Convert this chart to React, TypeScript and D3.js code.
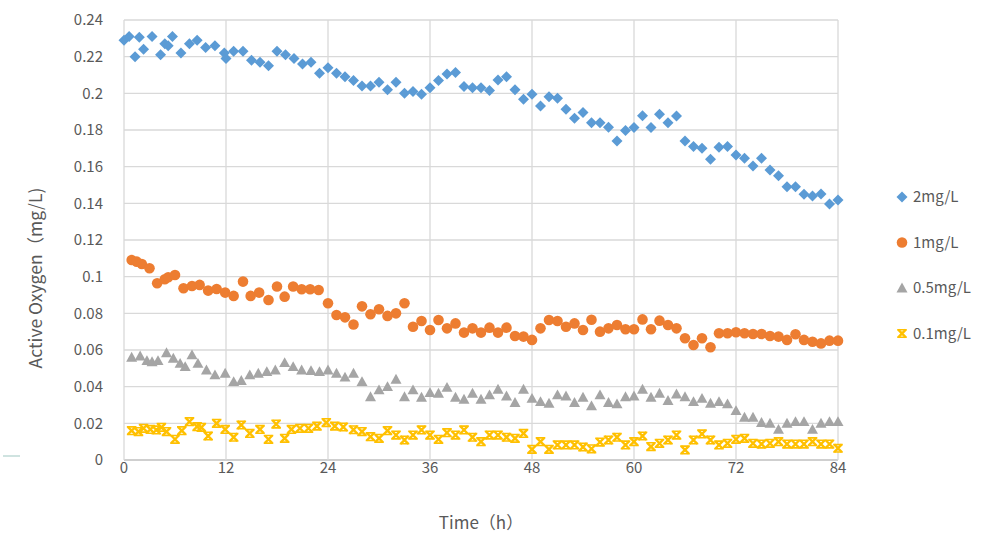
import React from 'react';
import * as d3 from 'd3';

// [hour, value] readings per concentration
const series2: [number, number][] = [
  [0, 0.229], [0.6, 0.231], [1.3, 0.22], [1.8, 0.2306], [2.3, 0.224], [3.3, 0.231], [4.3, 0.221], [4.8, 0.227],
  [5.2, 0.226], [5.7, 0.231], [6.7, 0.222], [7.7, 0.227], [8.6, 0.229], [9.6, 0.225], [10.7, 0.226], [11.8, 0.222],
  [12, 0.219], [12.9, 0.223], [14, 0.223], [15, 0.218], [16, 0.217], [17, 0.215], [18, 0.223], [19, 0.221],
  [20, 0.219], [21, 0.216], [22, 0.217], [23, 0.211], [24, 0.214], [25, 0.211], [26, 0.209], [27, 0.207],
  [28, 0.204], [29, 0.204], [30, 0.206], [31, 0.202], [32, 0.206], [33, 0.2], [34, 0.201], [35, 0.1995],
  [36, 0.203], [37, 0.207], [38, 0.2106], [39, 0.2113], [40, 0.2037], [41, 0.2031], [42, 0.2031], [43, 0.2015],
  [44, 0.2073], [45, 0.2091], [46, 0.2019], [47, 0.1968], [48, 0.1995], [49, 0.1931], [50, 0.1982], [51, 0.1973],
  [52, 0.1913], [53, 0.1864], [54, 0.1895], [55, 0.184], [56, 0.184], [57, 0.1815], [58, 0.174], [59, 0.1797],
  [60, 0.1813], [61, 0.1878], [62, 0.1813], [63, 0.1886], [64, 0.184], [65, 0.1877], [66, 0.174], [67, 0.171],
  [68, 0.17], [69, 0.164], [70, 0.1706], [71, 0.171], [72, 0.1664], [73, 0.1646], [74, 0.1604], [75, 0.1646],
  [76, 0.1582], [77, 0.155], [78, 0.149], [79, 0.149], [80, 0.145], [81, 0.144], [82, 0.1451], [83, 0.1397],
  [84, 0.1418],
];

const series1: [number, number][] = [
  [0.9, 0.1091], [1.5, 0.1082], [2.1, 0.1069], [3, 0.1046], [3.9, 0.0964], [4.8, 0.0986], [5.2, 0.0997], [6, 0.1009],
  [7, 0.0937], [8, 0.0949], [8.9, 0.0955], [9.9, 0.0924], [10.9, 0.0933], [11.9, 0.0913], [12.9, 0.0895], [14, 0.0973],
  [14.9, 0.0895], [15.9, 0.0913], [17, 0.0873], [18, 0.0946], [18.9, 0.0891], [19.9, 0.0946], [20.9, 0.0931], [21.9, 0.0931],
  [22.9, 0.0927], [24, 0.0855], [25, 0.0791], [26, 0.0778], [27, 0.0739], [28, 0.0838], [29, 0.0795], [30, 0.0822],
  [31, 0.0786], [32, 0.08], [33, 0.0855], [34, 0.0727], [35, 0.0758], [36, 0.0709], [37, 0.0764], [38, 0.0718],
  [39, 0.0745], [40, 0.0695], [41, 0.0718], [42, 0.0695], [43, 0.0722], [44, 0.0695], [45, 0.0722], [46, 0.0676],
  [47, 0.0673], [48, 0.0655], [49, 0.0718], [50, 0.0764], [51, 0.0758], [52, 0.0727], [53, 0.0745], [54, 0.0709],
  [55, 0.0765], [56, 0.07], [57, 0.0718], [58, 0.0736], [59, 0.0713], [60, 0.0713], [61, 0.0767], [62, 0.0713],
  [63, 0.076], [64, 0.0736], [65, 0.0718], [66, 0.0664], [67, 0.0627], [68, 0.0664], [69, 0.0615], [70, 0.0691],
  [71, 0.0691], [72, 0.0697], [73, 0.0691], [74, 0.0687], [75, 0.0687], [76, 0.0676], [77, 0.0673], [78, 0.0655],
  [79, 0.0686], [80, 0.0655], [81, 0.0645], [82, 0.0636], [83, 0.0651], [84, 0.0651],
];

const series05: [number, number][] = [
  [0.9, 0.056], [1.9, 0.0567], [2.7, 0.0542], [3.3, 0.0536], [4, 0.0542], [5, 0.0585], [5.8, 0.0555], [6.6, 0.0527],
  [7.2, 0.0509], [8, 0.0573], [8.7, 0.0527], [9.7, 0.0491], [10.7, 0.0464], [11.9, 0.0473], [12.9, 0.0427], [13.8, 0.0433],
  [14.8, 0.0464], [15.8, 0.0473], [16.8, 0.0482], [17.8, 0.0491], [18.9, 0.0531], [19.9, 0.0509], [20.9, 0.0491], [22, 0.0487],
  [23, 0.0482], [24, 0.0491], [25, 0.0473], [26, 0.0452], [27, 0.0473], [28, 0.0427], [29, 0.0345], [30, 0.0382],
  [31, 0.04], [32, 0.044], [33, 0.0345], [34, 0.0382], [35, 0.0342], [36, 0.0367], [37, 0.0364], [38, 0.0396],
  [39, 0.0342], [40, 0.0331], [41, 0.0364], [42, 0.0331], [43, 0.0355], [44, 0.0386], [45, 0.0349], [46, 0.0313],
  [47, 0.0386], [48, 0.0336], [49, 0.0318], [50, 0.0309], [51, 0.0355], [52, 0.0349], [53, 0.0313], [54, 0.0342],
  [55, 0.0295], [56, 0.0355], [57, 0.0313], [58, 0.0306], [59, 0.0345], [60, 0.0349], [61, 0.0386], [62, 0.0342],
  [63, 0.0364], [64, 0.0324], [65, 0.036], [66, 0.0345], [67, 0.0318], [68, 0.0336], [69, 0.0309], [70, 0.0318],
  [71, 0.0306], [72, 0.0269], [73, 0.0233], [74, 0.0233], [75, 0.0204], [76, 0.02], [77, 0.0167], [78, 0.02],
  [79, 0.0209], [80, 0.0209], [81, 0.0167], [82, 0.02], [83, 0.0209], [84, 0.0209],
];

const series01: [number, number][] = [
  [0.9, 0.016], [1.7, 0.0155], [2.3, 0.0173], [3.1, 0.0167], [3.8, 0.0164], [4.4, 0.0178], [5, 0.0155], [6, 0.0113],
  [6.8, 0.016], [7.7, 0.0209], [8.6, 0.0182], [9.1, 0.0178], [9.9, 0.0131], [10.9, 0.02], [11.9, 0.0167], [12.9, 0.0124],
  [13.8, 0.0191], [14.8, 0.0145], [16, 0.0167], [17, 0.0113], [17.9, 0.0196], [18.9, 0.0118], [19.7, 0.0167], [20.7, 0.0173],
  [21.7, 0.0173], [22.7, 0.0185], [23.8, 0.0204], [24.8, 0.0185], [25.8, 0.018], [27, 0.0165], [28, 0.0155], [29, 0.0127],
  [30, 0.0118], [31, 0.016], [32, 0.0136], [33, 0.0109], [34, 0.0136], [35, 0.0164], [36, 0.0136], [37, 0.0113],
  [38, 0.0149], [39, 0.0136], [40, 0.0164], [41, 0.0124], [42, 0.01], [43, 0.0136], [44, 0.0136], [45, 0.0124],
  [46, 0.0118], [47, 0.0145], [48, 0.0058], [49, 0.01], [50, 0.0058], [51, 0.0082], [52, 0.0082], [53, 0.0082],
  [54, 0.0071], [55, 0.0061], [56, 0.0098], [57, 0.0109], [58, 0.0124], [59, 0.0082], [60, 0.01], [61, 0.0131],
  [62, 0.0073], [63, 0.0091], [64, 0.0109], [65, 0.0136], [66, 0.0055], [67, 0.0109], [68, 0.0142], [69, 0.0109],
  [70, 0.0082], [71, 0.0091], [72, 0.0113], [73, 0.0118], [74, 0.0091], [75, 0.0087], [76, 0.0091], [77, 0.01],
  [78, 0.0087], [79, 0.0087], [80, 0.0087], [81, 0.01], [82, 0.0087], [83, 0.0087], [84, 0.0064],
];

const seriesNames = ['2mg/L', '1mg/L', '0.5mg/L', '0.1mg/L'];
const xTicks = [0, 12, 24, 36, 48, 60, 72, 84];
const yTicks = [0, 0.02, 0.04, 0.06, 0.08, 0.1, 0.12, 0.14, 0.16, 0.18, 0.2, 0.22, 0.24];

const colors = ['#5B9BD5', '#ED7D31', '#A5A5A5', '#FFC000'];
const font = '"Noto Sans CJK SC", "Noto Sans", sans-serif';
const textColor = '#595959';

const Marker = ({ kind, x, y }: { kind: number; x: number; y: number }) => {
  const c = colors[kind];
  if (kind === 0) {
    const s = 5.5;
    return <path d={`M${x},${y - s}L${x + s},${y}L${x},${y + s}L${x - s},${y}Z`} fill={c} />;
  }
  if (kind === 1) return <circle cx={x} cy={y} r={5.3} fill={c} />;
  if (kind === 2) {
    const s = 5.5;
    return <path d={`M${x},${y - s}L${x + s},${y + s * 0.8}L${x - s},${y + s * 0.8}Z`} fill={c} />;
  }
  const s = 3.8;
  return (
    <g stroke={c} strokeWidth={2.4} fill="none">
      <path d={`M${x - s},${y - s}L${x + s},${y + s}M${x + s},${y - s}L${x - s},${y + s}`} />
      <path d={`M${x - s - 1},${y - s}L${x + s + 1},${y - s}M${x - s - 1},${y + s}L${x + s + 1},${y + s}`} strokeWidth={1.6} />
    </g>
  );
};

const App = () => {
  const width = 1006;
  const height = 541;
  const margin = { top: 20, right: 168, bottom: 81, left: 124 };

  const x = d3.scaleLinear().domain([0, 84]).range([margin.left, width - margin.right]);
  const y = d3.scaleLinear().domain([0, 0.24]).range([height - margin.bottom, margin.top]);
  const all = [series2, series1, series05, series01];
  const fmt = (v: number) => String(+v.toFixed(2));

  return (
    <svg width={width} height={height} style={{ position: 'absolute', left: 0, top: 0, background: '#fff' }}>
      <rect width={width} height={height} fill="#fff" />
      {yTicks.map((t) => (
        <line key={'gy' + t} x1={x(0)} x2={x(84)} y1={y(t)} y2={y(t)} stroke={t === 0 ? '#bfbfbf' : '#d9d9d9'} strokeWidth={1.3} />
      ))}
      {xTicks.map((t) => (
        <line key={'gx' + t} x1={x(t)} x2={x(t)} y1={y(0)} y2={y(0.24)} stroke="#d9d9d9" strokeWidth={1.3} />
      ))}
      {yTicks.map((t) => (
        <text key={'ty' + t} x={103} y={y(t)} dy="0.35em" textAnchor="end" fontSize={15} fontFamily={font} fill={textColor}>
          {fmt(t)}
        </text>
      ))}
      {xTicks.map((t) => (
        <text key={'tx' + t} x={x(t)} y={y(0) + 2} dy="0.71em" textAnchor="middle" fontSize={15} fontFamily={font} fill={textColor}>
          {t}
        </text>
      ))}
      <text x={(x(0) + x(84)) / 2} y={529} textAnchor="middle" fontSize={17} fontFamily={font} fill={textColor}>
        Time（h）
      </text>
      <text transform={`translate(42,${278}) rotate(-90)`} textAnchor="middle" fontSize={17.5} fontFamily={font} fill={textColor}>
        Active Oxygen（mg/L)
      </text>
      <line x1={3} x2={20} y1={456} y2={456} stroke="#cfe3e0" strokeWidth={2} />
      {all.map((s, i) => (
        <g key={'s' + i}>
          {s.map(([h, v], j) => (
            <Marker key={j} kind={i} x={x(h)} y={y(v)} />
          ))}
        </g>
      ))}
      {seriesNames.map((n, i) => (
        <g key={'l' + i}>
          <Marker kind={i} x={902} y={197 + i * 45.5} />
          <text x={913} y={197 + i * 45.5} dy="0.35em" fontSize={15} fontFamily={font} fill={textColor}>
            {n}
          </text>
        </g>
      ))}
    </svg>
  );
};

export default App;
